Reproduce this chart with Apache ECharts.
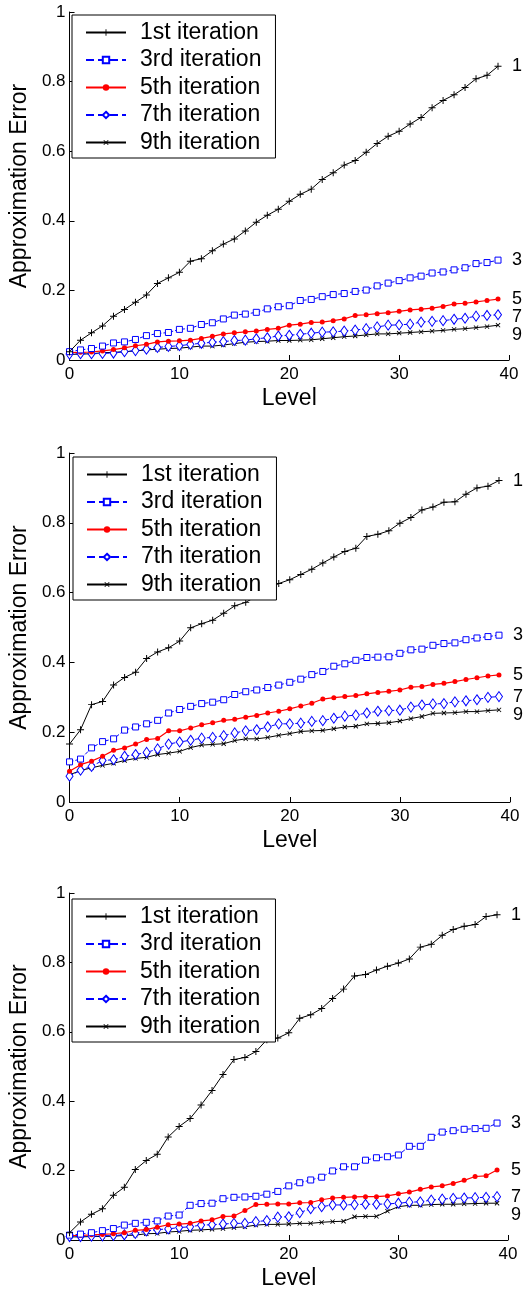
<!DOCTYPE html>
<html>
<head>
<meta charset="utf-8">
<script src="https://cdn.jsdelivr.net/npm/echarts@6/dist/echarts.min.js"></script>
<style>
  html, body { margin: 0; padding: 0; background: #fff; }
  #chart { width: 525px; height: 1291px; }
</style>
</head>
<body>
<div id="chart"></div>
<script>
// series names and end labels
const iterNames = ['1st iteration', '3rd iteration', '5th iteration', '7th iteration', '9th iteration']
const endTags = ['1', '3', '5', '7', '9']
const yTicks = [0, 0.2, 0.4, 0.6, 0.8, 1]
const xTicks = [0, 10, 20, 30, 40]

// panel 1 (top), values per level 0..39
const top1 = [0.024,0.057,0.078,0.098,0.126,0.145,0.166,0.187,0.220,0.236,0.252,0.284,0.291,0.314,0.333,0.348,0.371,0.396,0.416,0.433,0.456,0.476,0.491,0.519,0.538,0.560,0.573,0.597,0.622,0.643,0.657,0.678,0.697,0.725,0.746,0.762,0.783,0.808,0.818,0.844]
const top3 = [0.024,0.029,0.033,0.040,0.049,0.052,0.059,0.070,0.076,0.079,0.088,0.091,0.102,0.107,0.118,0.129,0.132,0.137,0.147,0.153,0.156,0.171,0.174,0.182,0.188,0.191,0.197,0.201,0.213,0.221,0.228,0.236,0.241,0.250,0.253,0.259,0.265,0.277,0.280,0.287]
const top5 = [0.021,0.022,0.023,0.026,0.030,0.035,0.041,0.045,0.052,0.054,0.055,0.057,0.062,0.068,0.075,0.078,0.081,0.083,0.088,0.091,0.100,0.103,0.108,0.109,0.113,0.118,0.128,0.130,0.133,0.136,0.140,0.144,0.146,0.149,0.154,0.161,0.163,0.167,0.171,0.175]
const top7 = [0.017,0.018,0.018,0.019,0.020,0.024,0.027,0.031,0.036,0.039,0.041,0.045,0.048,0.051,0.053,0.056,0.057,0.061,0.064,0.069,0.071,0.074,0.077,0.080,0.081,0.083,0.086,0.090,0.095,0.100,0.101,0.103,0.109,0.111,0.113,0.117,0.120,0.126,0.128,0.130]
const top9 = [0.016,0.017,0.018,0.021,0.022,0.024,0.026,0.029,0.031,0.033,0.034,0.037,0.040,0.040,0.043,0.047,0.051,0.053,0.054,0.056,0.056,0.057,0.058,0.061,0.064,0.067,0.069,0.072,0.075,0.075,0.077,0.079,0.081,0.083,0.085,0.088,0.090,0.093,0.096,0.100]

// panel 2 (middle)
const mid1 = [0.166,0.207,0.279,0.288,0.335,0.357,0.372,0.411,0.430,0.442,0.461,0.499,0.511,0.521,0.541,0.562,0.572,0.590,0.610,0.626,0.637,0.652,0.667,0.685,0.702,0.718,0.727,0.761,0.767,0.777,0.799,0.815,0.837,0.845,0.859,0.860,0.882,0.900,0.905,0.921]
const mid3 = [0.115,0.123,0.155,0.173,0.181,0.206,0.215,0.224,0.234,0.255,0.265,0.274,0.282,0.286,0.293,0.308,0.316,0.321,0.328,0.335,0.343,0.352,0.365,0.374,0.389,0.396,0.406,0.414,0.415,0.416,0.426,0.436,0.438,0.449,0.454,0.456,0.465,0.470,0.474,0.478]
const mid5 = [0.088,0.107,0.117,0.131,0.148,0.155,0.166,0.179,0.182,0.204,0.204,0.212,0.221,0.227,0.234,0.237,0.243,0.248,0.255,0.260,0.267,0.275,0.283,0.295,0.299,0.302,0.305,0.310,0.314,0.317,0.321,0.329,0.331,0.337,0.340,0.345,0.351,0.356,0.361,0.364]
const mid7 = [0.074,0.091,0.102,0.119,0.121,0.131,0.136,0.142,0.152,0.166,0.172,0.177,0.183,0.185,0.190,0.198,0.204,0.207,0.215,0.224,0.224,0.226,0.231,0.233,0.240,0.246,0.249,0.255,0.260,0.262,0.263,0.272,0.278,0.281,0.282,0.287,0.290,0.293,0.300,0.302]
const mid9 = [0.078,0.090,0.098,0.105,0.111,0.119,0.125,0.128,0.136,0.140,0.145,0.156,0.163,0.165,0.167,0.176,0.181,0.181,0.185,0.191,0.196,0.202,0.204,0.205,0.210,0.215,0.217,0.224,0.225,0.227,0.232,0.239,0.245,0.254,0.255,0.256,0.259,0.259,0.262,0.264]

// panel 3 (bottom)
const bot1 = [0.021,0.052,0.074,0.090,0.129,0.152,0.203,0.229,0.247,0.297,0.327,0.350,0.389,0.431,0.477,0.520,0.526,0.543,0.577,0.582,0.597,0.639,0.649,0.667,0.696,0.723,0.761,0.765,0.778,0.789,0.798,0.810,0.844,0.852,0.878,0.895,0.904,0.909,0.932,0.937]
const bot3 = [0.014,0.017,0.021,0.027,0.033,0.043,0.048,0.051,0.055,0.069,0.072,0.100,0.105,0.106,0.119,0.123,0.124,0.126,0.132,0.140,0.156,0.165,0.173,0.181,0.199,0.211,0.211,0.230,0.237,0.240,0.245,0.270,0.270,0.296,0.311,0.315,0.319,0.321,0.322,0.337]
const bot5 = [0.013,0.013,0.015,0.016,0.018,0.021,0.028,0.030,0.037,0.044,0.046,0.048,0.055,0.058,0.068,0.069,0.085,0.102,0.103,0.104,0.104,0.107,0.108,0.116,0.121,0.123,0.124,0.125,0.125,0.127,0.133,0.138,0.146,0.153,0.156,0.163,0.172,0.183,0.185,0.202]
const bot7 = [0.010,0.010,0.011,0.012,0.013,0.015,0.019,0.026,0.030,0.032,0.036,0.038,0.043,0.044,0.046,0.048,0.048,0.053,0.056,0.066,0.067,0.079,0.090,0.096,0.101,0.101,0.102,0.103,0.103,0.104,0.106,0.109,0.110,0.115,0.118,0.120,0.121,0.122,0.123,0.125]
const bot9 = [0.009,0.009,0.010,0.010,0.011,0.013,0.014,0.018,0.019,0.023,0.025,0.028,0.029,0.031,0.033,0.036,0.038,0.043,0.045,0.045,0.046,0.048,0.048,0.051,0.053,0.054,0.067,0.068,0.068,0.083,0.096,0.100,0.100,0.102,0.103,0.103,0.104,0.105,0.106,0.106]

const panels = [
    [top1, top3, top5, top7, top9],
    [mid1, mid3, mid5, mid7, mid9],
    [bot1, bot3, bot5, bot7, bot9]
]

const FONT = 'Liberation Sans, Arial, Helvetica, sans-serif'
const plusPath = 'path://M0,4.3H10V5.7H0Z M4.3,0H5.7V10H4.3Z'

// marker / line look of each iteration (hollow markers: white fill + thin border)
const looks = [
    { color: '#000000', fill: '#000000', type: 'solid', width: 1, symbol: plusPath, size: 7, rotate: 0, border: 0 },
    { color: '#0000ff', fill: '#ffffff', type: 'dashed', width: 1, symbol: 'rect', size: 6, rotate: 0, border: 1 },
    { color: '#ff0000', fill: '#ff0000', type: 'solid', width: 1.2, symbol: 'circle', size: 5, rotate: 0, border: 0 },
    { color: '#0000ff', fill: '#ffffff', type: 'dashed', width: 1, symbol: 'diamond', size: [7, 10], rotate: 0, border: 1 },
    { color: '#000000', fill: '#000000', type: 'solid', width: 1, symbol: plusPath, size: 6, rotate: 45, border: 0 }
]

const gridBoxes = [
    { left: 67, top: 12, width: 442, height: 348 },
    { left: 68, top: 453, width: 442, height: 349 },
    { left: 67, top: 893, width: 441, height: 351 }
]

const chart = echarts.init(document.getElementById('chart'), null, { renderer: 'canvas' })

const grid = gridBoxes.map(b => ({ ...b, containLabel: false }))

const xAxis = gridBoxes.map((b, i) => ({
    type: 'value',
    gridIndex: i,
    min: xTicks[0],
    max: xTicks[xTicks.length - 1],
    interval: 10,
    name: 'Level',
    nameLocation: 'middle',
    nameGap: 27,
    nameTextStyle: { fontFamily: FONT, fontSize: 23, color: '#000' },
    axisLine: { show: true, lineStyle: { color: '#000', width: 1 } },
    axisTick: { show: true, inside: true, length: 5, lineStyle: { color: '#000' } },
    axisLabel: { fontFamily: FONT, fontSize: 17, color: '#000', margin: 6 },
    splitLine: { show: false }
}))

const yAxis = gridBoxes.map((b, i) => ({
    type: 'value',
    gridIndex: i,
    min: yTicks[0],
    max: yTicks[yTicks.length - 1],
    interval: 0.2,
    name: 'Approximation Error',
    nameLocation: 'middle',
    nameGap: 32,
    nameTextStyle: { fontFamily: FONT, fontSize: 23, color: '#000' },
    axisLine: { show: true, lineStyle: { color: '#000', width: 1 } },
    axisTick: { show: true, inside: true, length: 5, lineStyle: { color: '#000' } },
    axisLabel: {
        fontFamily: FONT, fontSize: 17, color: '#000', margin: 4,
        formatter: v => String(Math.round(v * 10) / 10)
    },
    splitLine: { show: false }
}))

const series = []
panels.forEach((panel, p) => {
    panel.forEach((values, k) => {
        const lk = looks[k]
        series.push({
            name: iterNames[k],
            type: 'line',
            xAxisIndex: p,
            yAxisIndex: p,
            data: values.map((v, i) => [i, v]),
            symbol: lk.symbol,
            symbolSize: lk.size,
            symbolRotate: lk.rotate,
            showAllSymbol: true,
            animation: false,
            lineStyle: { color: lk.color, width: lk.width, type: lk.type },
            itemStyle: { color: lk.fill, borderColor: lk.color, borderWidth: lk.border },
            endLabel: {
                show: true,
                formatter: endTags[k],
                distance: 14,
                fontFamily: FONT,
                fontSize: 18,
                color: '#000'
            },
            labelLayout: { moveOverlap: 'shiftY' },
            z: 10 - k
        })
    })
})

const legend = gridBoxes.map((b, i) => ({
    orient: 'vertical',
    left: b.left + 5,
    top: b.top + 3 + (i === 2 ? 3 : i === 1 ? 1 : 0),
    data: iterNames,
    itemWidth: 40,
    itemHeight: 8,
    itemGap: 4.5,
    padding: [6, 14, 4, 13],
    backgroundColor: '#fff',
    borderColor: '#000',
    borderWidth: 1,
    borderRadius: 0,
    selectedMode: false,
    textStyle: { fontFamily: FONT, fontSize: 23, color: '#000', padding: [0, 0, 0, 9] },
    z: 20
}))

chart.setOption({
    backgroundColor: '#fff',
    animation: false,
    grid,
    xAxis,
    yAxis,
    legend,
    series
})
</script>
</body>
</html>
